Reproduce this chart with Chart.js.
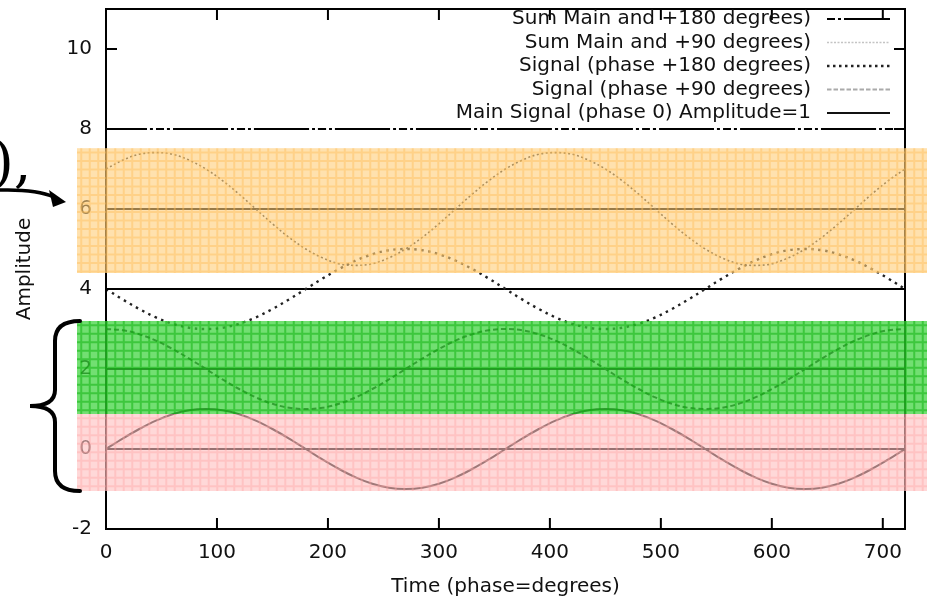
<!DOCTYPE html>
<html>
<head>
<meta charset="utf-8">
<title>Phase shifted signals</title>
<script src="https://cdn.jsdelivr.net/npm/chart.js@4.4.1/dist/chart.umd.min.js"></script>
<style>
  html, body { margin: 0; padding: 0; background: #fff; }
  canvas { display: block; }
</style>
</head>
<body>
<canvas id="chart" width="927" height="600"></canvas>
<script>
// phase (degrees) sampled every 15 deg over two periods
const phaseDeg = [0, 15, 30, 45, 60, 75, 90, 105, 120, 135, 150, 165, 180, 195, 210, 225, 240, 255, 270, 285, 300, 315, 330, 345, 360,
  375, 390, 405, 420, 435, 450, 465, 480, 495, 510, 525, 540, 555, 570, 585, 600, 615, 630, 645, 660, 675, 690, 705, 720];

// main signal, drawn around 0
const mainSignal = [0, 0.26, 0.5, 0.71, 0.87, 0.97, 1, 0.97, 0.87, 0.71, 0.5, 0.26, 0, -0.26, -0.5, -0.71, -0.87, -0.97, -1, -0.97, -0.87, -0.71, -0.5, -0.26, 0,
  0.26, 0.5, 0.71, 0.87, 0.97, 1, 0.97, 0.87, 0.71, 0.5, 0.26, 0, -0.26, -0.5, -0.71, -0.87, -0.97, -1, -0.97, -0.87, -0.71, -0.5, -0.26, 0];

// +90 degree signal, drawn around 2
const signal90 = [3, 2.97, 2.87, 2.71, 2.5, 2.26, 2, 1.74, 1.5, 1.29, 1.13, 1.03, 1, 1.03, 1.13, 1.29, 1.5, 1.74, 2, 2.26, 2.5, 2.71, 2.87, 2.97, 3,
  2.97, 2.87, 2.71, 2.5, 2.26, 2, 1.74, 1.5, 1.29, 1.13, 1.03, 1, 1.03, 1.13, 1.29, 1.5, 1.74, 2, 2.26, 2.5, 2.71, 2.87, 2.97, 3];

// +180 degree signal, drawn around 4
const signal180 = [4, 3.74, 3.5, 3.29, 3.13, 3.03, 3, 3.03, 3.13, 3.29, 3.5, 3.74, 4, 4.26, 4.5, 4.71, 4.87, 4.97, 5, 4.97, 4.87, 4.71, 4.5, 4.26, 4,
  3.74, 3.5, 3.29, 3.13, 3.03, 3, 3.03, 3.13, 3.29, 3.5, 3.74, 4, 4.26, 4.5, 4.71, 4.87, 4.97, 5, 4.97, 4.87, 4.71, 4.5, 4.26, 4];

// main + 90, drawn around 6
const sumMain90 = [7, 7.22, 7.37, 7.41, 7.37, 7.22, 7, 6.71, 6.37, 6, 5.63, 5.29, 5, 4.78, 4.63, 4.59, 4.63, 4.78, 5, 5.29, 5.63, 6, 6.37, 6.71, 7,
  7.22, 7.37, 7.41, 7.37, 7.22, 7, 6.71, 6.37, 6, 5.63, 5.29, 5, 4.78, 4.63, 4.59, 4.63, 4.78, 5, 5.29, 5.63, 6, 6.37, 6.71, 7];

// main + 180 cancels out, drawn around 8
const sumMain180 = [8, 8, 8, 8, 8, 8, 8, 8, 8, 8, 8, 8, 8, 8, 8, 8, 8, 8, 8, 8, 8, 8, 8, 8, 8,
  8, 8, 8, 8, 8, 8, 8, 8, 8, 8, 8, 8, 8, 8, 8, 8, 8, 8, 8, 8, 8, 8, 8, 8];

const baselineLevels = [0, 2, 4, 6];

// highlighted amplitude ranges [low, high]
const bandRanges = [[4.4, 7.52], [0.875, 3.2], [-1.05, 0.875]];

const xTickStep = 100;
const yTickStep = 2;

const FONT = "'DejaVu Sans', sans-serif";

function series(label, values, style) {
  return Object.assign({
    label: label,
    data: phaseDeg.map((p, i) => ({ x: p, y: values[i] })),
    inKey: true,
    pointRadius: 0,
    fill: false
  }, style);
}

const datasets = [
  series('Main Signal (phase 0) Amplitude=1', mainSignal, {
    borderColor: '#111', borderWidth: 2, keyColor: '#111'
  }),
  series('Signal (phase +90 degrees)', signal90, {
    borderColor: '#222', borderWidth: 2, borderDash: [5, 3], keyColor: '#aaa', keyDash: [4.5, 2]
  }),
  series('Signal (phase +180 degrees)', signal180, {
    borderColor: '#222', borderWidth: 2.4, borderDash: [2.5, 4.5], keyColor: '#222', keyDash: [2.5, 3.5]
  }),
  series('Sum Main and +90 degrees)', sumMain90, {
    borderColor: '#333', borderWidth: 1.6, borderDash: [2, 2.5], keyColor: '#c4c4c4', keyDash: [2, 1.5]
  }),
  series('Sum Main and +180 degrees)', sumMain180, {
    borderColor: '#000', borderWidth: 2, borderDash: [55, 3, 3, 3, 8, 3, 3, 3], borderDashOffset: 14,
    keyDashOffset: 64
  })
];

baselineLevels.forEach(level => {
  datasets.push({
    label: 'baseline ' + level,
    data: [{ x: phaseDeg[0], y: level }, { x: phaseDeg[phaseDeg.length - 1], y: level }],
    inKey: false,
    borderColor: '#000',
    borderWidth: 2,
    pointRadius: 0,
    tension: 0
  });
});

// frame with inward ticks, gnuplot style key, shaded ranges and the margin notes
const gnuplotLook = {
  id: 'gnuplotLook',
  afterDraw(chart) {
    const { ctx, chartArea: a, scales: { x, y } } = chart;
    ctx.save();

    // border + mirrored inward ticks
    ctx.strokeStyle = '#000';
    ctx.lineWidth = 2;
    ctx.setLineDash([]);
    ctx.strokeRect(a.left, a.top, a.right - a.left, a.bottom - a.top);
    const tl = 11;
    ctx.beginPath();
    x.ticks.forEach(t => {
      const px = x.getPixelForValue(t.value);
      ctx.moveTo(px, a.bottom); ctx.lineTo(px, a.bottom - tl);
      ctx.moveTo(px, a.top); ctx.lineTo(px, a.top + tl);
    });
    y.ticks.forEach(t => {
      const py = y.getPixelForValue(t.value);
      ctx.moveTo(a.left, py); ctx.lineTo(a.left + tl, py);
      ctx.moveTo(a.right, py); ctx.lineTo(a.right - tl, py);
    });
    ctx.stroke();

    // key: right aligned text with a line sample, last series on top
    const keyItems = chart.data.datasets.filter(d => d.inKey).slice().reverse();
    const sampleEnd = a.right - 15;
    const sampleStart = sampleEnd - 63;
    const textRight = sampleStart - 16;
    ctx.font = '20px ' + FONT;
    ctx.textAlign = 'right';
    ctx.textBaseline = 'middle';
    keyItems.forEach((d, i) => {
      const rowY = a.top + 10 + i * 23.5;
      ctx.fillStyle = '#111';
      ctx.fillText(d.label, textRight, rowY);
      ctx.strokeStyle = d.keyColor || d.borderColor;
      ctx.lineWidth = d.borderWidth;
      ctx.setLineDash(d.keyDash || d.borderDash || []);
      ctx.lineDashOffset = d.keyDashOffset || 0;
      ctx.beginPath();
      ctx.moveTo(sampleStart, rowY);
      ctx.lineTo(sampleEnd, rowY);
      ctx.stroke();
    });
    ctx.setLineDash([]);
    ctx.lineDashOffset = 0;

    // translucent graph-paper bands laid over everything
    const bandStyles = [
      { fill: 'rgba(255, 205, 120, 0.6)', grid: 'rgba(255, 190, 90, 0.45)' },
      { fill: 'rgba(60, 210, 60, 0.72)', grid: 'rgba(10, 175, 10, 0.5)' },
      { fill: 'rgba(255, 190, 190, 0.6)', grid: 'rgba(255, 165, 165, 0.4)' }
    ];
    const bx0 = a.left - 29;
    const bx1 = chart.width;
    const cell = 8.5;
    bandRanges.forEach((r, i) => {
      const top = y.getPixelForValue(r[1]);
      const bottom = y.getPixelForValue(r[0]);
      const st = bandStyles[i];
      ctx.fillStyle = st.fill;
      ctx.fillRect(bx0, top, bx1 - bx0, bottom - top);
      ctx.strokeStyle = st.grid;
      ctx.lineWidth = 2;
      ctx.beginPath();
      for (let gx = bx0 + cell / 2; gx < bx1; gx += cell) {
        ctx.moveTo(gx, top); ctx.lineTo(gx, bottom);
      }
      for (let gy = top + cell / 2; gy < bottom; gy += cell) {
        ctx.moveTo(bx0, gy); ctx.lineTo(bx1, gy);
      }
      ctx.stroke();
    });

    // brace spanning the two lower bands
    const bTop = y.getPixelForValue(bandRanges[1][1]);
    const bBot = y.getPixelForValue(bandRanges[2][0]);
    const bMid = (bTop + bBot) / 2;
    const xr = a.left - 26, xm = a.left - 51, xt = a.left - 76;
    ctx.strokeStyle = '#000';
    ctx.lineWidth = 4;
    ctx.lineCap = 'round';
    ctx.beginPath();
    ctx.moveTo(xr, bTop);
    ctx.quadraticCurveTo(xm, bTop, xm, bTop + 20);
    ctx.lineTo(xm, bMid - 16);
    ctx.quadraticCurveTo(xm, bMid, xt, bMid);
    ctx.quadraticCurveTo(xm, bMid, xm, bMid + 16);
    ctx.lineTo(xm, bBot - 20);
    ctx.quadraticCurveTo(xm, bBot, xr, bBot);
    ctx.stroke();

    // arrow pointing at the upper band
    const ay = y.getPixelForValue(6.2);
    const tipX = a.left - 40;
    ctx.lineWidth = 3.5;
    ctx.beginPath();
    ctx.moveTo(0, ay - 11);
    ctx.quadraticCurveTo(tipX - 30, ay - 12, tipX - 12, ay - 4);
    ctx.stroke();
    ctx.fillStyle = '#000';
    ctx.beginPath();
    ctx.moveTo(tipX, ay + 1);
    ctx.lineTo(tipX - 17, ay - 11);
    ctx.lineTo(tipX - 13, ay + 6);
    ctx.closePath();
    ctx.fill();

    ctx.font = '56px "DejaVu Serif", serif';
    ctx.textAlign = 'left';
    ctx.textBaseline = 'alphabetic';
    ctx.fillText('),', -8, ay - 20);

    ctx.restore();
  }
};

const tickFont = { family: FONT, size: 20 };

new Chart(document.getElementById('chart').getContext('2d'), {
  type: 'line',
  data: { datasets: datasets },
  options: {
    responsive: false,
    animation: false,
    layout: { padding: { top: 9, right: 22, bottom: 0, left: 0 } },
    elements: { line: { tension: 0.35 }, point: { radius: 0 } },
    plugins: { legend: { display: false }, tooltip: { enabled: false } },
    scales: {
      x: {
        type: 'linear',
        min: 0,
        max: 720,
        grid: { display: false, drawTicks: false },
        border: { display: false },
        ticks: { stepSize: xTickStep, includeBounds: false, color: '#111', font: tickFont, padding: 12, maxRotation: 0 },
        title: { display: true, text: 'Time (phase=degrees)', color: '#111', font: tickFont, padding: { top: 0, bottom: 1 } },
        afterFit(scale) {
          scale.height = 71;
          scale.paddingLeft = 0;
          scale.paddingRight = 0;
        }
      },
      y: {
        type: 'linear',
        min: -2,
        max: 11,
        grid: { display: false, drawTicks: false },
        border: { display: false },
        ticks: { stepSize: yTickStep, includeBounds: false, color: '#111', font: tickFont, padding: 14 },
        title: { display: true, text: 'Amplitude', color: '#111', font: tickFont, padding: { top: 13, bottom: 0 } },
        afterFit(scale) {
          scale.width = 106;
          scale.paddingTop = 0;
          scale.paddingBottom = 0;
        }
      }
    }
  },
  plugins: [gnuplotLook]
});
</script>
</body>
</html>
